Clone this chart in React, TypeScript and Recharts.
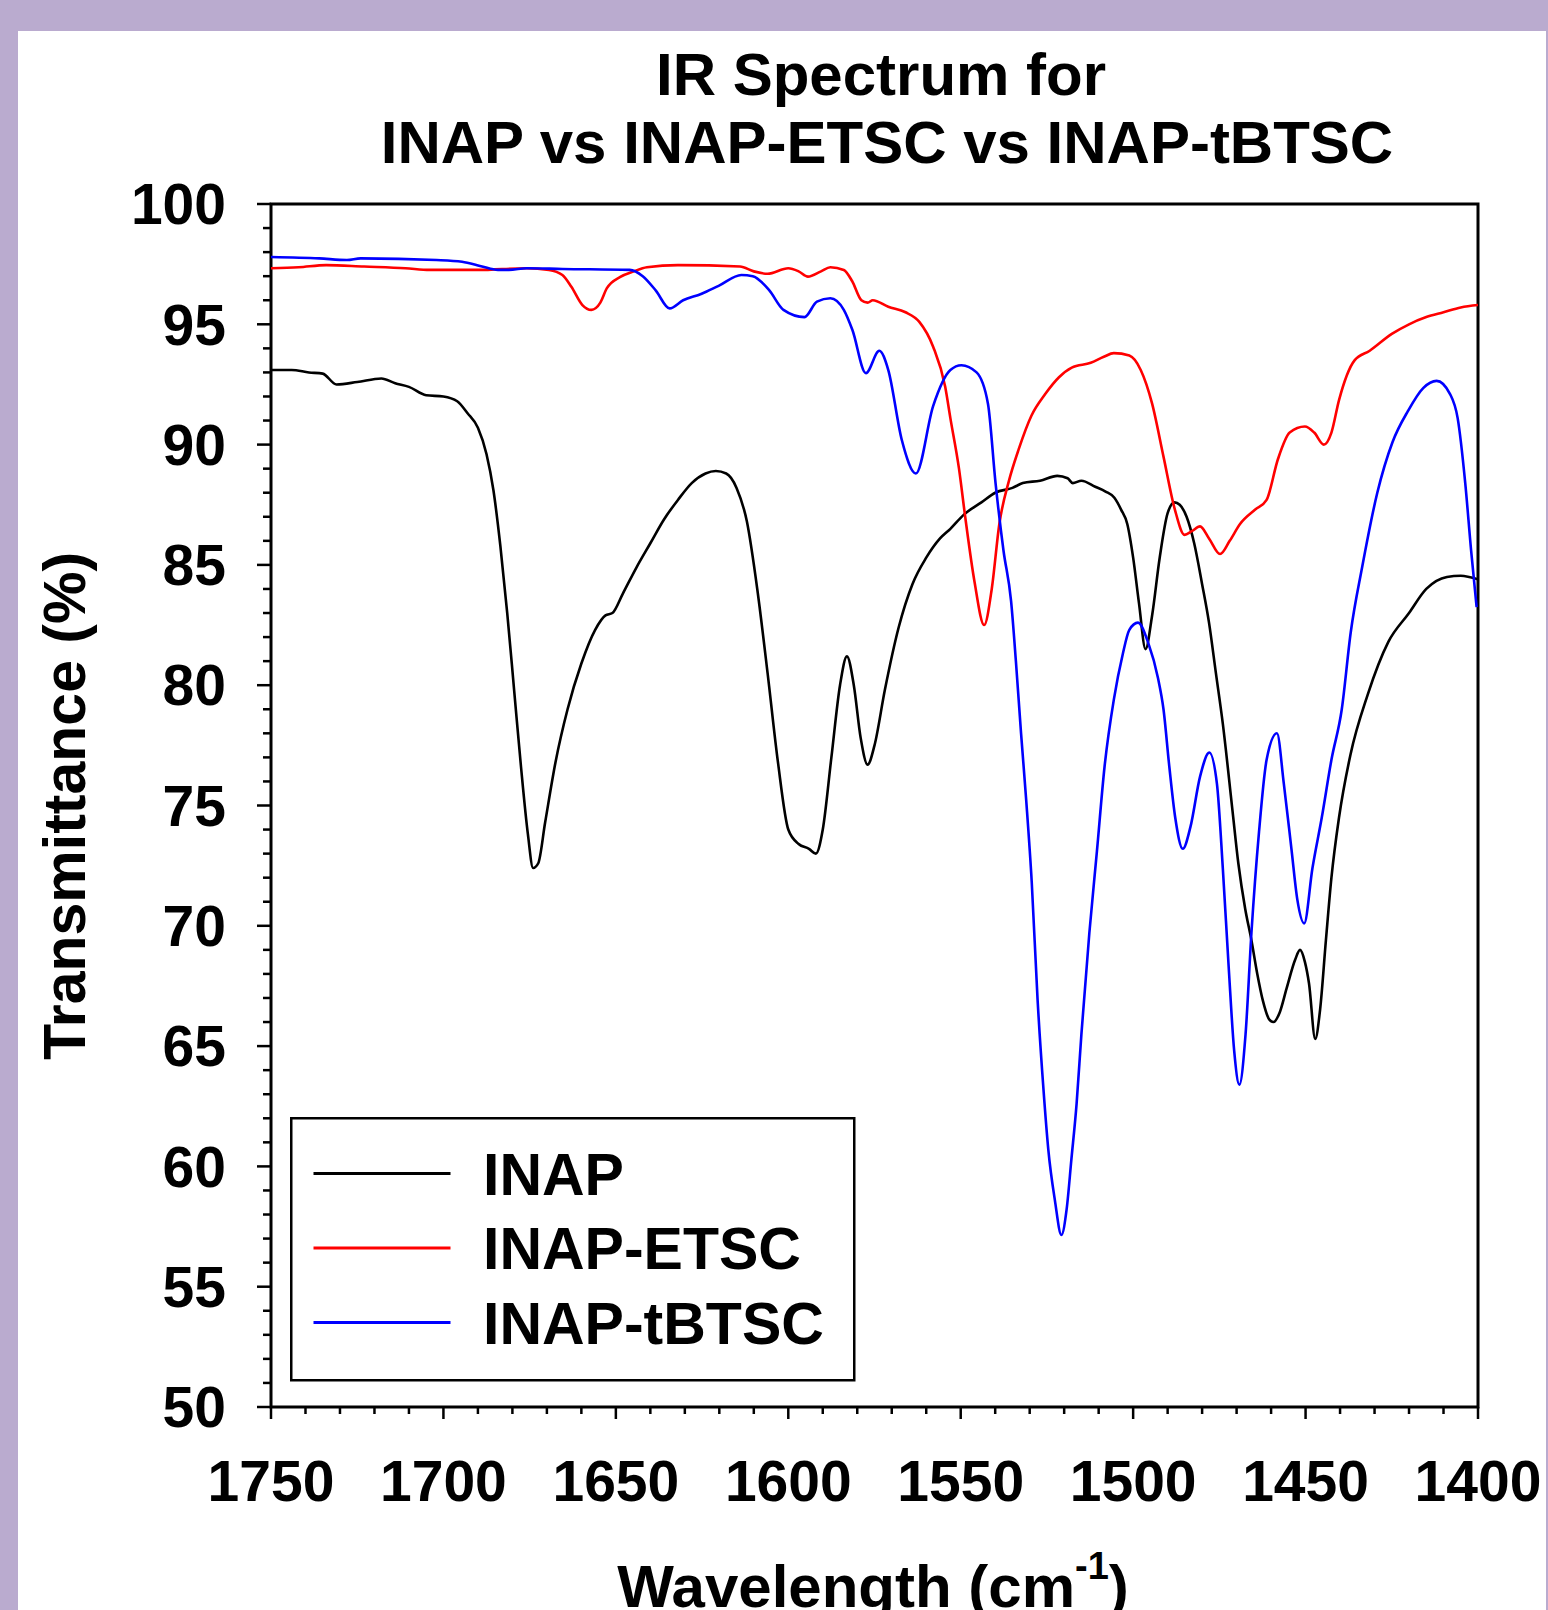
import React from "react";
import {
  LineChart,
  Line,
  XAxis,
  YAxis,
  Legend,
  ReferenceArea
} from "recharts";

const FONT = '"Liberation Sans", Arial, Helvetica, sans-serif';

// wavenumber (cm-1) / transmittance (%)
const INAP_W = [
  1750, 1744, 1739, 1735, 1731, 1725, 1718, 1714, 1710, 1705, 1700, 1696, 1693, 1690,
  1687.5, 1685.5, 1683.5, 1681.5, 1679.5, 1677.5, 1675.5, 1674, 1672.5, 1670.5, 1667.5,
  1664, 1660, 1656, 1653, 1651, 1648, 1644, 1640, 1636, 1632, 1628, 1624, 1621, 1618,
  1615, 1612, 1609, 1606, 1603, 1600, 1597, 1594, 1592, 1590, 1587.5, 1585, 1583, 1581,
  1579, 1577, 1575, 1572, 1568, 1564, 1560, 1556, 1553, 1549, 1544, 1540, 1535, 1532,
  1527, 1522, 1519, 1517.5, 1515, 1511, 1508, 1505.5, 1503.5, 1501.7, 1500, 1498.3,
  1496.4, 1494.5, 1492.3, 1490, 1488, 1486.5, 1484.5, 1482.3, 1480, 1478, 1476, 1474,
  1471.2, 1469.5, 1467.5, 1465.7, 1464, 1462.4, 1460.5, 1459.3, 1457.5, 1455.5, 1453,
  1451.6, 1450.2, 1449, 1447.2, 1445.8, 1444.1, 1442.5, 1440.3, 1437, 1432, 1426, 1420,
  1415, 1409, 1405, 1400
];
const INAP_T = [
  93.1, 93.1, 93.0, 92.95, 92.5, 92.6, 92.75, 92.55, 92.4, 92.05, 92.0, 91.8, 91.3, 90.7,
  89.6, 88.1, 85.8, 83.0, 79.8, 76.6, 73.8, 72.4, 72.6, 74.3, 76.8,
  79.0, 80.9, 82.3, 82.9, 83.0, 83.8, 84.9, 85.9, 86.9, 87.7, 88.4, 88.8, 88.9, 88.8,
  88.2, 86.8, 84.0, 80.5, 76.8, 74.0, 73.4, 73.2, 73.0, 74.0, 77.0, 80.0, 81.2, 80.0,
  77.8, 76.7, 77.5, 79.8, 82.4, 84.2, 85.3, 86.1, 86.5, 87.1, 87.6, 88.0, 88.2, 88.4,
  88.5, 88.7, 88.6, 88.4, 88.5, 88.25, 88.05, 87.8, 87.3, 86.7, 85.3, 83.4,
  81.5, 82.9, 85.3, 87.15, 87.6, 87.5, 87.0, 85.9, 84.2, 82.6, 80.5, 78.4,
  74.8, 72.6, 70.7, 69.4, 68.0, 66.9, 66.1, 66.0, 66.4, 67.4, 68.6,
  69.0, 68.5, 67.6, 65.3, 66.5, 69.4, 72.0, 74.5, 77.1, 79.6, 81.8, 83.0,
  84.0, 84.5, 84.55, 84.4
];

const ETSC_W = [
  1750, 1742, 1734, 1723, 1711, 1704, 1690, 1676, 1669.4, 1665.5, 1662.9, 1659.7, 1657.1,
  1654.5, 1652.6, 1648.7, 1644.8, 1641, 1632, 1614, 1610, 1606, 1600, 1597, 1594.3,
  1590.5, 1587.8, 1583.9, 1581.5, 1578.8, 1577, 1575.5, 1571, 1566, 1562, 1558, 1554.5,
  1553, 1550.5, 1548.7, 1546, 1543.2, 1541, 1538.8, 1536, 1533.2, 1529.5, 1525.5,
  1521.5, 1517.8, 1512.3, 1508.5, 1505.6, 1501.1, 1497.8, 1494.5, 1491.2, 1487.9,
  1485.1, 1483, 1480.6, 1478, 1474.8, 1472, 1469, 1464.6, 1461.3, 1458, 1454.6, 1450.2,
  1447.5, 1444.7, 1442.5, 1440.3, 1435.8, 1431.4, 1425, 1420, 1415, 1410, 1405, 1400
];
const ETSC_T = [
  97.33, 97.37, 97.46, 97.4, 97.33, 97.26, 97.26, 97.33, 97.26, 97.05, 96.56, 95.8, 95.6,
  95.9, 96.5, 96.97, 97.2, 97.37, 97.46, 97.4, 97.2, 97.1, 97.33, 97.2, 96.98,
  97.2, 97.37, 97.26, 96.8, 96.0, 95.9, 96.0, 95.73, 95.5, 95.1, 94.07, 92.4,
  91.1, 89.0, 87.0, 84.3, 82.5, 84.0, 86.7, 88.5, 89.8, 91.2, 92.1,
  92.8, 93.2, 93.4, 93.65, 93.8, 93.7, 93.1, 91.7, 89.5, 87.3,
  86.25, 86.4, 86.6, 86.1, 85.45, 86.0, 86.7, 87.3, 87.7, 89.4, 90.5, 90.75,
  90.5, 90.0, 90.5, 91.85, 93.5, 93.9, 94.6, 95.0, 95.3, 95.5, 95.7, 95.8
];

const TBTSC_W = [
  1750, 1736, 1728, 1724, 1702, 1694.6, 1688.8, 1684.2, 1681, 1675.8, 1665.5, 1646,
  1642.2, 1638.4, 1634.4, 1630.5, 1625.3, 1620.2, 1613.6, 1610.3, 1605.6, 1601.4, 1595.3,
  1591.7, 1587.8, 1583.9, 1581.4, 1577.5, 1573.6, 1571, 1567.1, 1563, 1558, 1553, 1549.8,
  1545.4, 1542.1, 1539.9, 1537.6, 1535.4, 1534, 1532.5, 1531, 1529.4, 1527.7, 1526,
  1524.6, 1522.7, 1520.8, 1519.3, 1517.9, 1516.4, 1515, 1512.7, 1510.5, 1508.3, 1505.6,
  1503, 1501.1, 1498.6, 1495.6, 1492.8, 1491.2, 1489.5, 1487.8, 1485.6, 1483.4, 1480.6,
  1477.9, 1475.7, 1474, 1472.3, 1470.7, 1469.2, 1467.4, 1465.7, 1463.5, 1461.3, 1458.3,
  1456.3, 1454.1, 1452.4, 1450.4, 1448, 1445.3, 1442.5, 1439.5, 1436.9, 1433.6, 1429.2,
  1424.8, 1420.3, 1415.9, 1412, 1408.1, 1405.9, 1403.7, 1402, 1400.4
];
const TBTSC_T = [
  97.8, 97.74, 97.67, 97.74, 97.67, 97.6, 97.4, 97.26, 97.26, 97.33, 97.3, 97.26,
  97.0, 96.4, 95.66, 96.0, 96.26, 96.6, 97.05, 97.0, 96.43, 95.6, 95.3,
  95.94, 96.08, 95.6, 94.76, 92.97, 93.9, 93.1, 90.2, 88.8, 91.6, 93.1, 93.3,
  93.0, 91.7, 88.4, 85.6, 83.5, 81.0, 78.0, 75.2, 71.8, 66.9, 63.2,
  60.7, 58.6, 57.15, 58.2, 60.3, 62.6, 65.5, 69.7, 73.1, 76.6, 79.4,
  81.3, 82.3, 82.6, 81.75, 80.3, 79.0, 76.6, 74.5, 73.2, 74.1, 76.2,
  77.2, 75.9, 72.4, 68.3, 64.8, 63.4, 65.5, 69.7, 73.9, 76.9, 78.0,
  75.9, 73.2, 71.1, 70.1, 72.4, 74.5, 76.9, 79.0, 82.2, 84.9, 88.0,
  90.1, 91.4, 92.35, 92.65, 92.1, 91.1, 88.4, 85.6, 83.25
];

const X_TICKS = [
  1750, 1740, 1730, 1720, 1710, 1700, 1690, 1680, 1670, 1660, 1650, 1640, 1630, 1620,
  1610, 1600, 1590, 1580, 1570, 1560, 1550, 1540, 1530, 1520, 1510, 1500, 1490, 1480,
  1470, 1460, 1450, 1440, 1430, 1420, 1410, 1400
];
const Y_TICKS = [
  50, 51, 52, 53, 54, 55, 56, 57, 58, 59, 60, 61, 62, 63, 64, 65, 66, 67, 68, 69, 70,
  71, 72, 73, 74, 75, 76, 77, 78, 79, 80, 81, 82, 83, 84, 85, 86, 87, 88, 89, 90,
  91, 92, 93, 94, 95, 96, 97, 98, 99, 100
];

const TITLE_LINES = ["IR Spectrum for", "INAP vs INAP-ETSC vs INAP-tBTSC"];

const zip = (ws: number[], ts: number[]) => ws.map((w, i) => ({ w, t: ts[i] }));

const inapData = zip(INAP_W, INAP_T);
const etscData = zip(ETSC_W, ETSC_T);
const tbtscData = zip(TBTSC_W, TBTSC_T);

const textStyle = { fontFamily: FONT, fontWeight: "bold" as const, fill: "#000" };

const renderXTick = (props: any) => {
  const { x, y, payload } = props;
  const major = payload.value % 50 === 0;
  return (
    <g>
      <line x1={x} x2={x} y1={y} y2={y + (major ? 12 : 7)} stroke="#000" strokeWidth={2.5} />
      {major && (
        <text x={x} y={y + 94} textAnchor="middle" fontSize={57} {...textStyle}>
          {payload.value}
        </text>
      )}
    </g>
  );
};

const renderYTick = (props: any) => {
  const { x, y, payload } = props;
  const major = payload.value % 5 === 0;
  return (
    <g>
      <line x1={x - (major ? 14 : 8)} x2={x} y1={y} y2={y} stroke="#000" strokeWidth={2.5} />
      {major && (
        <text x={x - 45} y={y} dy="0.355em" textAnchor="end" fontSize={57} {...textStyle}>
          {payload.value}
        </text>
      )}
    </g>
  );
};

const renderXLabel = () => (
  <text x={873} y={1607} textAnchor="middle" fontSize={60} {...textStyle}>
    Wavelength (cm
    <tspan dy={-28} fontSize={38}>-1</tspan>
    <tspan dy={28}>)</tspan>
  </text>
);

// y-axis label, plus the two-line chart title above the plot
const renderYLabel = () => (
  <g>
    <text
      x={85}
      y={806}
      transform="rotate(-90 85 806)"
      textAnchor="middle"
      fontSize={59}
      {...textStyle}
    >
      Transmittance (%)
    </text>
    <text x={881} y={95} textAnchor="middle" fontSize={60} {...textStyle}>
      {TITLE_LINES[0]}
    </text>
    <text x={887} y={163} textAnchor="middle" fontSize={60} {...textStyle}>
      {TITLE_LINES[1]}
    </text>
  </g>
);

const renderLegend = (props: any) => {
  const items = props.payload || [];
  return (
    <svg width={566} height={265} style={{ display: "block" }}>
      <rect x={1.25} y={1.25} width={563} height={262} fill="#fff" stroke="#000" strokeWidth={2.5} />
      {items.map((it: any, i: number) => (
        <g key={it.value}>
          <line
            x1={23.5}
            x2={160.5}
            y1={56.5 + i * 74.5}
            y2={56.5 + i * 74.5}
            stroke={it.color}
            strokeWidth={3}
          />
          <text x={193} y={77.5 + i * 74.5} fontSize={59} {...textStyle}>
            {it.value}
          </text>
        </g>
      ))}
    </svg>
  );
};

export default function App() {
  return (
    <div
      style={{
        position: "absolute",
        left: 0,
        top: 0,
        width: 1548,
        height: 1610,
        background: "#BAABCF",
        overflow: "hidden"
      }}
    >
      <div
        style={{ position: "absolute", left: 18, top: 31, width: 1528, height: 1579, background: "#fff" }}
      />
      <div style={{ position: "absolute", left: 0, top: 0 }}>
        <LineChart
          width={1548}
          height={1610}
          margin={{ top: 204, right: 70, bottom: 103, left: 171 }}
        >
          <XAxis
            dataKey="w"
            type="number"
            domain={[1400, 1750]}
            reversed
            allowDataOverflow
            ticks={X_TICKS}
            interval={0}
            height={100}
            tickSize={0}
            tickMargin={0}
            tickLine={false}
            axisLine={false}
            tick={renderXTick}
            label={{ content: renderXLabel }}
          />
          <YAxis
            type="number"
            domain={[50, 100]}
            allowDataOverflow
            ticks={Y_TICKS}
            interval={0}
            width={100}
            tickSize={0}
            tickMargin={0}
            tickLine={false}
            axisLine={false}
            tick={renderYTick}
            label={{ content: renderYLabel }}
          />
          <ReferenceArea
            x1={1400}
            x2={1750}
            y1={50}
            y2={100}
            fill="none"
            fillOpacity={0}
            stroke="#000"
            strokeWidth={3}
            strokeOpacity={1}
          />
          <Legend
            layout="vertical"
            align="center"
            verticalAlign="middle"
            content={renderLegend}
            wrapperStyle={{ left: 289.5, top: 1117, width: 566, height: 265 }}
          />
          <Line
            data={inapData}
            dataKey="t"
            name="INAP"
            type="monotone"
            stroke="#000000"
            strokeWidth={2.6}
            dot={false}
            activeDot={false}
            isAnimationActive={false}
          />
          <Line
            data={etscData}
            dataKey="t"
            name="INAP-ETSC"
            type="monotone"
            stroke="#FF0000"
            strokeWidth={2.6}
            dot={false}
            activeDot={false}
            isAnimationActive={false}
          />
          <Line
            data={tbtscData}
            dataKey="t"
            name="INAP-tBTSC"
            type="monotone"
            stroke="#0000FF"
            strokeWidth={2.6}
            dot={false}
            activeDot={false}
            isAnimationActive={false}
          />
        </LineChart>
      </div>
    </div>
  );
}
